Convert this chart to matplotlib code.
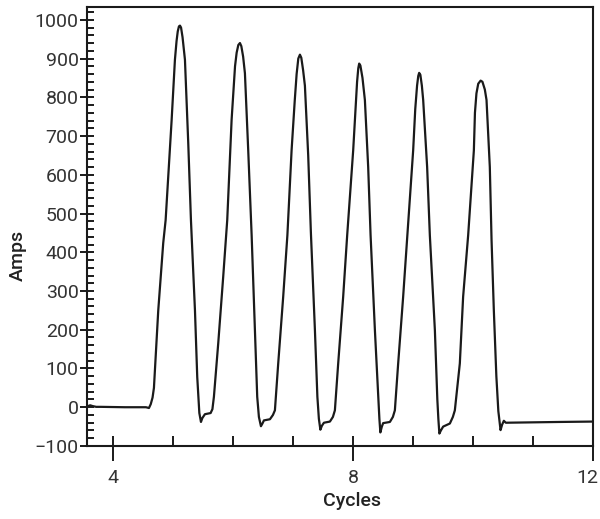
import matplotlib
matplotlib.use('Agg')
import matplotlib.pyplot as plt
import matplotlib.transforms as mtransforms
from matplotlib.ticker import MultipleLocator, FixedLocator

plt.rcParams['font.family'] = ['Roboto', 'DejaVu Sans']

# trace: cycles vs amps
cycles = [
    3.567, 3.62, 3.66, 3.72, 3.80, 4.20, 4.55, 4.60, 4.63, 4.66, 4.683,
    4.755, 4.838, 4.878, 4.978, 5.033, 5.06, 5.08, 5.10, 5.117, 5.135,
    5.16, 5.20, 5.255, 5.30, 5.367, 5.405, 5.44, 5.467, 5.49, 5.533,
    5.628, 5.658, 5.683, 5.755, 5.838, 5.905, 5.978, 6.035, 6.062, 6.09,
    6.117, 6.14, 6.17, 6.20, 6.255, 6.312, 6.367, 6.405, 6.433, 6.467,
    6.492, 6.517, 6.617, 6.667, 6.70, 6.755, 6.838, 6.908, 6.978, 7.03,
    7.062, 7.09, 7.117, 7.14, 7.17, 7.20, 7.255, 7.30, 7.367, 7.408,
    7.433, 7.458, 7.483, 7.517, 7.617, 7.667, 7.70, 7.755, 7.838, 7.905,
    8.005, 8.04, 8.07, 8.09, 8.105, 8.125, 8.16, 8.20, 8.255, 8.295,
    8.367, 8.422, 8.442, 8.458, 8.483, 8.505, 8.617, 8.667, 8.70, 8.755,
    8.838, 8.908, 9.005, 9.04, 9.07, 9.09, 9.105, 9.125, 9.15, 9.172,
    9.238, 9.283, 9.367, 9.408, 9.425, 9.442, 9.467, 9.505, 9.617, 9.667,
    9.70, 9.783, 9.838, 9.922, 10.017, 10.035, 10.06, 10.09, 10.13, 10.16,
    10.20, 10.228, 10.283, 10.312, 10.35, 10.392, 10.425, 10.462, 10.488, 10.517,
    10.55, 10.95, 11.45, 12.0,
]
amps = [
    2, 5, 3, 1, 1, 0, 0, -2, 8, 25, 50,
    250, 424, 483, 741, 897, 945, 970, 983, 985, 980,
    955, 897, 682, 483, 250, 78, -15, -38, -28, -18,
    -15, -5, 27, 165, 337, 483, 742, 880, 915, 935,
    940, 932, 905, 862, 663, 444, 199, 27, -25, -49,
    -42, -34, -31, -20, -8, 113, 285, 444, 663, 790,
    860, 900, 910, 902, 870, 830, 650, 450, 199, 27,
    -30, -58, -48, -40, -37, -25, -8, 113, 285, 444,
    663, 760, 840, 875, 887, 882, 850, 793, 620, 444,
    199, 30, -30, -65, -50, -41, -38, -25, -8, 113,
    285, 444, 663, 770, 830, 855, 863, 858, 830, 793,
    620, 444, 199, 20, -30, -68, -60, -50, -42, -25,
    -8, 113, 285, 444, 663, 760, 810, 835, 843, 840,
    820, 793, 620, 431, 250, 80, -10, -59, -45, -35,
    -40, -39, -38, -37,
]

x_major = [4, 8, 12]
x_minor = [4, 5, 6, 7, 8, 9, 10, 11, 12]

fig = plt.figure(figsize=(6, 5.19), dpi=100)
ax = fig.add_axes([0.145, 0.1407, 0.843, 0.8458])

ax.plot(cycles, amps, color='#1a1a1a', lw=1.6, solid_joinstyle='round')

ax.set_xlim(3.567, 12)
ax.set_ylim(-100, 1033)

ax.xaxis.set_major_locator(FixedLocator(x_major))
ax.xaxis.set_minor_locator(FixedLocator(x_minor))
ax.yaxis.set_major_locator(MultipleLocator(100))
ax.yaxis.set_minor_locator(MultipleLocator(20))
ax.xaxis.remove_overlapping_locs = False
ax.yaxis.remove_overlapping_locs = False

for s in ax.spines.values():
    s.set_linewidth(1.5)
    s.set_color('#1a1a1a')

ax.tick_params(axis='x', which='major', direction='out', length=10.8, width=1.4,
               pad=6, labelsize=14, colors='#1a1a1a', labelcolor='#333333')
ax.tick_params(axis='x', which='minor', direction='in', length=7.2, width=1.4,
               colors='#1a1a1a')
ax.tick_params(axis='y', which='major', direction='out', length=5, width=1.4,
               pad=1, labelsize=14, colors='#1a1a1a', labelcolor='#333333')
ax.tick_params(axis='y', which='minor', direction='in', length=5, width=1.4,
               colors='#1a1a1a')

# the last x label sits right on the figure edge; nudge it in a little
fig.canvas.draw()
last = ax.get_xticklabels()[-1]
last.set_transform(last.get_transform() +
                   mtransforms.ScaledTranslation(-4 / 72, 0, fig.dpi_scale_trans))

ax.set_xlabel('Cycles', fontsize=14, fontweight='medium', color='#222222')
ax.set_ylabel('Amps', fontsize=14, fontweight='medium', color='#222222')
ax.xaxis.set_label_coords(0.524, -0.105)
ax.yaxis.set_label_coords(-0.118, 0.435)

fig.savefig('out.png', dpi=100)
